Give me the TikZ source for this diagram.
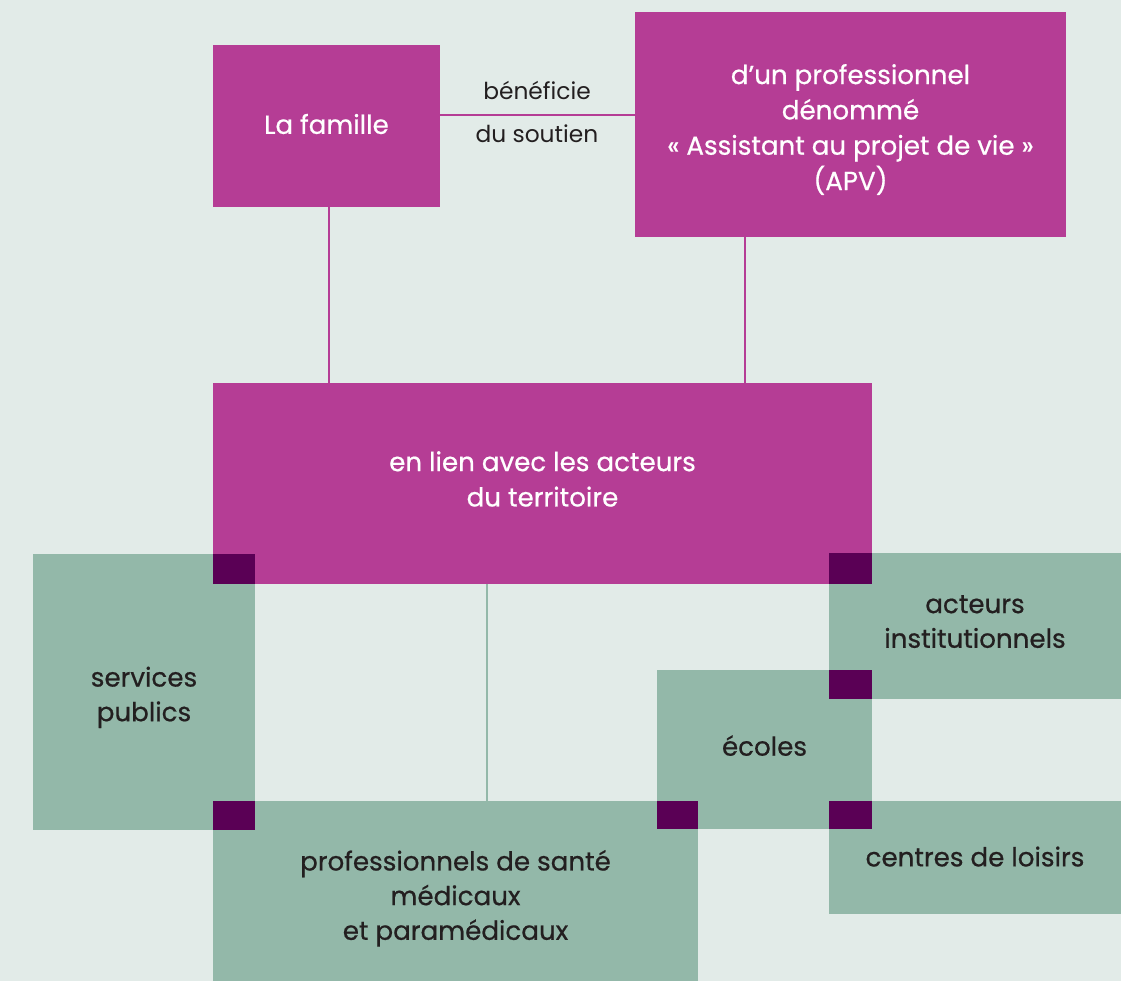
\documentclass[tikz,border=0pt]{standalone}
\usepackage{fontspec}
\setmainfont{Poppins}
\newfontfamily\medfont{Poppins}[FakeBold=0.6]
\usetikzlibrary{fit}
\definecolor{bgc}{HTML}{E2EBE8}
\definecolor{mag}{HTML}{B53D95}
\definecolor{grn}{HTML}{93B8A9}
\definecolor{dark}{HTML}{5A0055}
\definecolor{txt}{HTML}{231F20}
\begin{document}
\begin{tikzpicture}[x=0.75pt,y=-0.75pt,
  box/.style={inner sep=0pt, outer sep=0pt},
  magbox/.style={box, fill=mag},
  grnbox/.style={box, fill=grn},
  tw/.style={inner sep=0pt, align=center, text=white, font=\medfont\fontsize{19.6}{26.5}\selectfont},
  tg/.style={inner sep=0pt, align=center, text=txt, font=\medfont\fontsize{19.6}{26}\selectfont},
  overlap/.style={fill=dark},
  link/.style={line width=1.5pt, draw=mag},
  glink/.style={line width=1.5pt, draw=grn},
  lbl/.style={font=\fontsize{17.5}{20}\selectfont, text=txt, inner sep=0pt}]
\useasboundingbox[fill=bgc] (0,0) rectangle (1121,981);
\clip (0,0) rectangle (1121,981);
% magenta boxes
\node[magbox, fit={(213,45)(440,207)}, label={[tw, yshift=1.5pt]center:La famille}] (fam) {};
\node[magbox, fit={(635,12)(1066,237)}, label={[tw, yshift=-3.75pt]center:d’un professionnel\\dénommé\\« Assistant au projet de vie »\\(APV)}] (apv) {};
\node[magbox, fit={(213,383)(872,584)}, label={[tw, yshift=3.4pt]center:en lien avec les acteurs\\du territoire}] (ctr) {};
% green boxes
\node[grnbox, fit={(33,554)(255,830)}, label={[tg, yshift=-4pt]center:services\\publics}] (srv) {};
\node[grnbox, fit={(213,801)(698,991)}, label={[tg, yshift=-1.75pt]center:professionnels de santé\\médicaux\\et paramédicaux}] (pro) {};
\node[grnbox, fit={(829,553)(1121,699)}, label={[tg, yshift=3.3pt]center:acteurs\\institutionnels}] (act) {};
\node[grnbox, fit={(657,670)(872,829)}, label={[tg, yshift=2.95pt]center:écoles}] (eco) {};
\node[grnbox, fit={(829,801)(1121,914)}, label={[tg, yshift=0.7pt]center:centres de loisirs}] (loi) {};
% overlaps
\fill[overlap] (213,554) rectangle (255,584);
\fill[overlap] (213,801) rectangle (255,830);
\fill[overlap] (829,553) rectangle (872,584);
\fill[overlap] (829,670) rectangle (872,699);
\fill[overlap] (657,801) rectangle (698,829);
\fill[overlap] (829,801) rectangle (872,829);
% connectors
\coordinate (lk) at (537,115);
\draw[link] (fam.east |- lk) -- (apv.west |- lk);
\node[lbl] (l1) at (537,90) {bénéficie};
\node[lbl] (l2) at (537,134) {du soutien};
\draw[link] (fam.south -| 329,0) -- (ctr.north -| 329,0);
\draw[link] (apv.south -| 745,0) -- (ctr.north -| 745,0);
\draw[glink] (ctr.south -| 487,0) -- (pro.north -| 487,0);
\end{tikzpicture}
\end{document}
